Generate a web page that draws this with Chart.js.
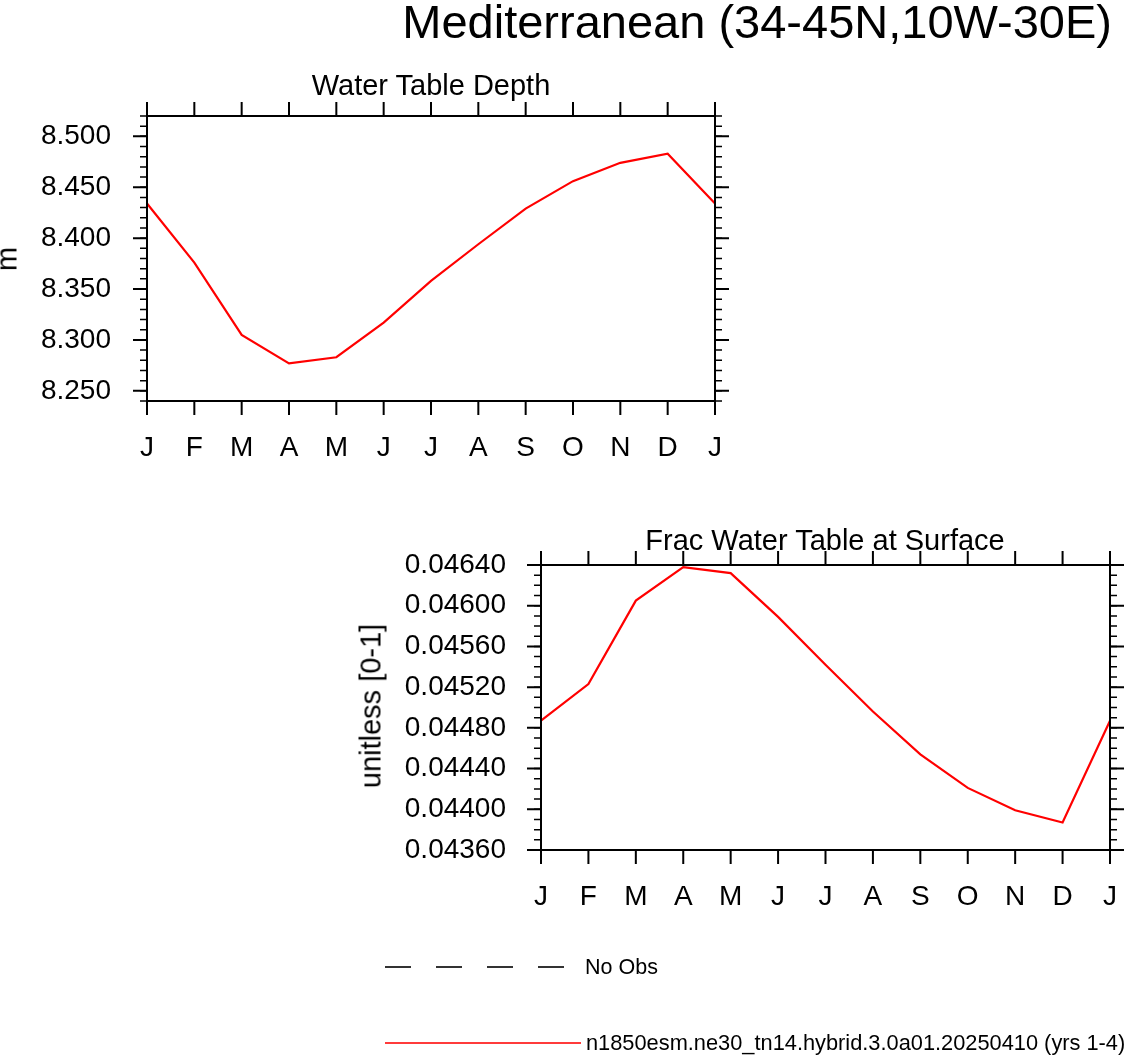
<!DOCTYPE html>
<html>
<head>
<meta charset="utf-8">
<script src="https://cdn.jsdelivr.net/npm/chart.js@4.4.1/dist/chart.umd.min.js"></script>
<style>
  body { margin: 0; background: #fff; font-family: "Liberation Sans", Arial, Helvetica, sans-serif; }
  #page { position: relative; width: 1128px; height: 1055px; overflow: hidden; }
  canvas { position: absolute; left: 0; top: 0; }
  .txt { position: absolute; white-space: nowrap; line-height: 1; color: #000; }
  .rot { transform: translate(-50%, -50%) rotate(-90deg); }
</style>
</head>
<body>
<div id="page">
  <canvas id="wtdChart" width="1128" height="1055"></canvas>
  <canvas id="fracChart" width="1128" height="1055"></canvas>

  <div class="txt" style="right:16px; top:-2px; font-size:47px;">Mediterranean (34-45N,10W-30E)</div>
  <div class="txt" style="left:431px; top:71px; font-size:29px; transform:translateX(-50%);">Water Table Depth</div>
  <div class="txt" style="left:825px; top:526px; font-size:29px; transform:translateX(-50%);">Frac Water Table at Surface</div>
  <div class="txt rot" style="left:7px; top:259px; font-size:29px;">m</div>
  <div class="txt rot" style="left:371px; top:706px; font-size:29px;">unitless [0-1]</div>

  <!-- legend -->
  <div style="position:absolute; left:385px; top:966px; width:181px; height:1.5px;
       background:repeating-linear-gradient(to right, #333 0 26px, transparent 26px 51px);"></div>
  <div class="txt" style="left:585px; top:957px; font-size:21.5px;">No Obs</div>
  <div style="position:absolute; left:385px; top:1042px; width:196px; height:1.5px; background:#ff3b3b;"></div>
  <div class="txt" style="left:586px; top:1032px; font-size:21.8px;">n1850esm.ne30_tn14.hybrid.3.0a01.20250410 (yrs 1-4)</div>
</div>

<script>
  // months, Jan repeated at the end
  const months = ['J', 'F', 'M', 'A', 'M', 'J', 'J', 'A', 'S', 'O', 'N', 'D', 'J'];

  // Water Table Depth (m)
  const wtdValues = [8.434, 8.376, 8.305, 8.277, 8.283, 8.317, 8.358, 8.394, 8.429, 8.456, 8.474, 8.483, 8.434];
  const wtdTicks = [8.25, 8.30, 8.35, 8.40, 8.45, 8.50];
  const wtdMin = 8.24, wtdMax = 8.52, wtdMinor = 0.01;

  // Frac Water Table at Surface (unitless)
  const fracValues = [0.04487, 0.04523, 0.04605, 0.04638, 0.04632, 0.04589, 0.04542, 0.04496, 0.04454, 0.04421, 0.04399, 0.04387, 0.04487];
  const fracTicks = [0.0436, 0.0440, 0.0444, 0.0448, 0.0452, 0.0456, 0.0460, 0.0464];
  const fracMin = 0.0436, fracMax = 0.0464, fracMinor = 0.0001;

  const PAGE_W = 1128, PAGE_H = 1055;
  const FONT = '"Liberation Sans", Arial, Helvetica, sans-serif';

  // box + outward major/minor ticks on all four sides (NCL style)
  const framePlugin = {
    id: 'frame',
    afterDraw(chart, args, opts) {
      const { ctx, chartArea: a, scales: { x, y } } = chart;
      ctx.save();
      ctx.strokeStyle = '#000';
      ctx.lineCap = 'butt';

      ctx.lineWidth = 2;
      ctx.strokeRect(a.left, a.top, a.right - a.left, a.bottom - a.top);

      ctx.beginPath();
      x.ticks.forEach((t, i) => {
        const px = x.getPixelForTick(i);
        ctx.moveTo(px, a.bottom); ctx.lineTo(px, a.bottom + 14);
        ctx.moveTo(px, a.top); ctx.lineTo(px, a.top - 14);
      });
      y.ticks.forEach(t => {
        const py = y.getPixelForValue(t.value);
        ctx.moveTo(a.left, py); ctx.lineTo(a.left - 14, py);
        ctx.moveTo(a.right, py); ctx.lineTo(a.right + 14, py);
      });
      ctx.stroke();

      ctx.lineWidth = 1.5;
      ctx.beginPath();
      const n = Math.round((y.max - y.min) / opts.minor);
      for (let k = 0; k <= n; k++) {
        const py = y.getPixelForValue(y.min + k * opts.minor);
        ctx.moveTo(a.left, py); ctx.lineTo(a.left - 7, py);
        ctx.moveTo(a.right, py); ctx.lineTo(a.right + 7, py);
      }
      ctx.stroke();
      ctx.restore();
    }
  };

  function makeChart(id, values, yTicks, yMin, yMax, minor, digits, area, labelPad) {
    const xHeight = 70;
    return new Chart(document.getElementById(id), {
      type: 'line',
      data: {
        labels: months,
        datasets: [{
          data: values,
          borderColor: '#ff0000',
          borderWidth: 2.2,
          pointRadius: 0,
          tension: 0,
          fill: false
        }]
      },
      options: {
        responsive: false,
        animation: false,
        layout: {
          padding: {
            left: 0,
            top: area.top,
            right: PAGE_W - area.right,
            bottom: PAGE_H - area.bottom - xHeight
          }
        },
        plugins: {
          legend: { display: false },
          tooltip: { enabled: false },
          frame: { minor: minor }
        },
        scales: {
          x: {
            offset: false,
            grid: { display: false, drawTicks: false },
            border: { display: false },
            ticks: {
              color: '#000',
              font: { family: FONT, size: 28 },
              padding: 30,
              maxRotation: 0,
              autoSkip: false
            },
            afterFit: s => { s.height = xHeight; s.paddingLeft = 0; s.paddingRight = 0; }
          },
          y: {
            min: yMin,
            max: yMax,
            grid: { display: false, drawTicks: false },
            border: { display: false },
            ticks: {
              color: '#000',
              font: { family: FONT, size: 28 },
              padding: labelPad,
              callback: v => Number(v).toFixed(digits)
            },
            afterBuildTicks: s => { s.ticks = yTicks.map(v => ({ value: v })); },
            afterFit: s => { s.width = area.left; s.paddingTop = 0; s.paddingBottom = 0; }
          }
        }
      },
      plugins: [framePlugin]
    });
  }

  const wtdChart = makeChart('wtdChart', wtdValues, wtdTicks, wtdMin, wtdMax, wtdMinor, 3,
    { left: 147, top: 116, right: 715, bottom: 401 }, 36);
  const fracChart = makeChart('fracChart', fracValues, fracTicks, fracMin, fracMax, fracMinor, 5,
    { left: 541, top: 565, right: 1110, bottom: 850 }, 35);
</script>
</body>
</html>
